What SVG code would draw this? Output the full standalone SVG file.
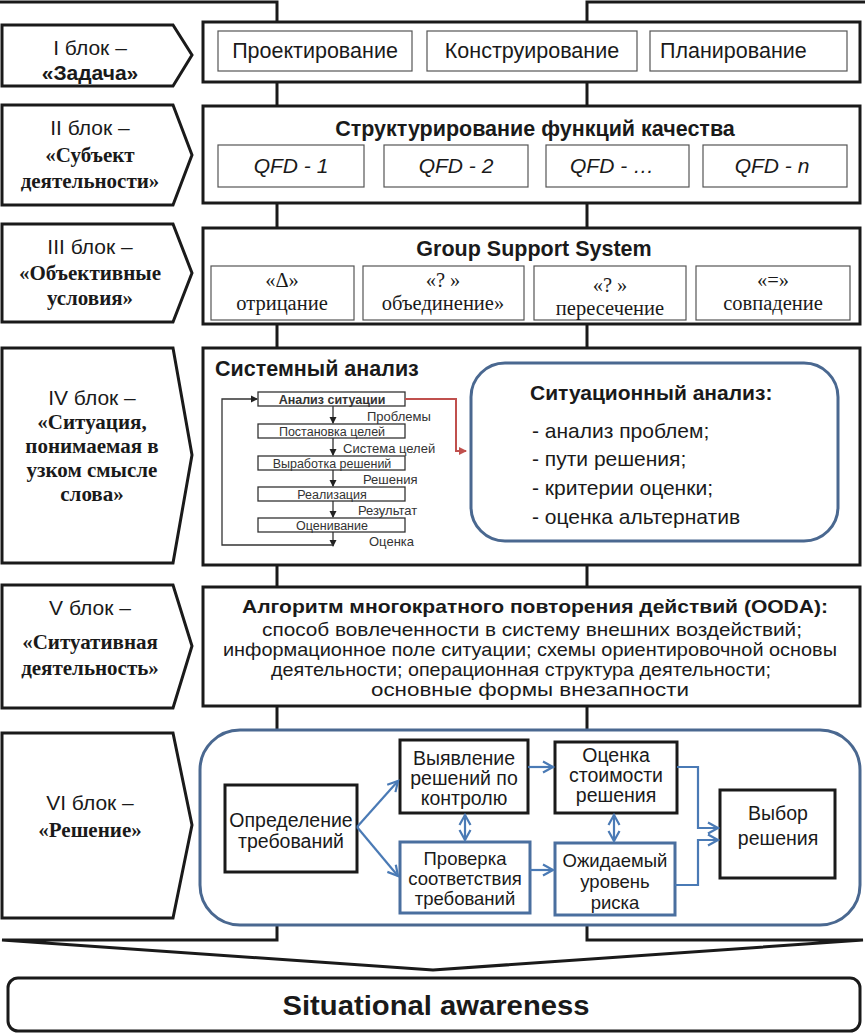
<svg xmlns="http://www.w3.org/2000/svg" width="865" height="1034" viewBox="0 0 865 1034">
<defs>
<marker id="ob" markerWidth="14" markerHeight="14" refX="11" refY="7" orient="auto" markerUnits="userSpaceOnUse">
<path d="M1,1.5 L11,7 L1,12.5" fill="none" stroke="#4a7ab5" stroke-width="2.2"/>
</marker>
<marker id="obs" markerWidth="14" markerHeight="14" refX="11" refY="7" orient="auto-start-reverse" markerUnits="userSpaceOnUse">
<path d="M1,1.5 L11,7 L1,12.5" fill="none" stroke="#4a7ab5" stroke-width="2.2"/>
</marker>
<marker id="sm" markerWidth="8" markerHeight="8" refX="6" refY="4" orient="auto" markerUnits="userSpaceOnUse">
<path d="M0,0.5 L7,4 L0,7.5 Z" fill="#222"/>
</marker>
<marker id="rd" markerWidth="9" markerHeight="9" refX="7" refY="4.5" orient="auto" markerUnits="userSpaceOnUse">
<path d="M0,0.5 L8,4.5 L0,8.5 Z" fill="#c0504d"/>
</marker>
</defs>
<style>
.lab{fill:#fff;stroke:#1a1a1a;stroke-width:3;stroke-linejoin:miter}
.main{fill:#fff;stroke:#1a1a1a;stroke-width:3}
.inner{fill:#fff;stroke:#555;stroke-width:1.2}
.sans{font-family:"Liberation Sans",Arial,sans-serif;fill:#1a1a1a}
.serif{font-family:"Liberation Serif","Times New Roman",serif;fill:#1a1a1a}
.lt{font-size:21px;text-anchor:middle}
.lb{font-size:21px;text-anchor:middle;font-weight:bold}
.t2{font-size:21.5px}
.c{text-anchor:middle}
.b{font-weight:bold}
.blue{fill:#fff;stroke:#4a6890;stroke-width:3}
.nb{fill:#fff;stroke:#1a1a1a;stroke-width:3}
.nbl{fill:#fff;stroke:#4a6f9f;stroke-width:3}
.nt{font-size:19.5px;text-anchor:middle}
.ns{font-size:18.5px;text-anchor:middle}
.arr{fill:none;stroke:#4a7ab5;stroke-width:2.2}
.fl{fill:#fff;stroke:#333;stroke-width:1.3}
.fa{fill:none;stroke:#333;stroke-width:1.3}
.ft{font-size:13px;fill:#333}
.fb{font-size:12.5px;fill:#333}
.st{font-size:21px}
</style>

<g id="connectors">
<path d="M0,2 H277 V940 H2 L433,970 L863,940 H587 V2 H865" fill="none" stroke="#1a1a1a" stroke-width="3"/>
</g>

<g id="block1">
<path class="lab" d="M2,25 H173 L192,55 L173,86 H2 Z"/>
<text class="sans lt" x="90" y="55">I блок –</text>
<text class="sans lb" x="90" y="80">«Задача»</text>
<rect class="main" x="203" y="22" width="657" height="60"/>
<rect class="inner" x="218" y="31" width="194" height="40"/>
<rect class="inner" x="427" y="31" width="210" height="40"/>
<rect class="inner" x="650" y="31" width="197" height="40"/>
<text class="sans t2 c" x="315" y="58">Проектирование</text>
<text class="sans t2 c" x="532" y="58">Конструирование</text>
<text class="sans t2" x="660" y="58">Планирование</text>
</g>

<g id="block2">
<path class="lab" d="M2,105 H173 L192,155 L173,205 H2 Z"/>
<text class="sans lt" x="90" y="135">II блок –</text>
<text class="serif lb" x="90" y="162">«Субъект</text>
<text class="serif lb" x="90" y="188">деятельности»</text>
<rect class="main" x="203" y="106" width="657" height="97"/>
<text class="sans t2 b c" x="535" y="136">Структурирование функций качества</text>
<rect class="inner" x="218" y="145" width="146" height="42"/>
<rect class="inner" x="384" y="145" width="144" height="42"/>
<rect class="inner" x="546" y="145" width="143" height="42"/>
<rect class="inner" x="703" y="145" width="144" height="42"/>
<text class="sans lt" font-style="italic" x="291" y="173">QFD - 1</text>
<text class="sans lt" font-style="italic" x="456" y="173">QFD - 2</text>
<text class="sans lt" font-style="italic" x="612" y="173">QFD - …</text>
<text class="sans lt" font-style="italic" x="772" y="173">QFD - n</text>
</g>

<g id="block3">
<path class="lab" d="M2,224 H173 L192,273 L173,322 H2 Z"/>
<text class="sans lt" x="90" y="254">III блок –</text>
<text class="serif lb" x="90" y="280">«Объективные</text>
<text class="serif lb" x="90" y="305">условия»</text>
<rect class="main" x="203" y="228" width="657" height="96"/>
<text class="sans t2 b c" x="534" y="256">Group Support System</text>
<rect class="inner" x="211" y="266" width="143" height="54"/>
<rect class="inner" x="363" y="266" width="161" height="54"/>
<rect class="inner" x="534" y="266" width="152" height="54"/>
<rect class="inner" x="696" y="266" width="154" height="54"/>
<text class="serif c" font-size="20.5" x="282" y="287">«Δ»</text>
<text class="serif c" font-size="20.5" x="282" y="310">отрицание</text>
<text class="serif c" font-size="20.5" x="443" y="287">«? »</text>
<text class="serif c" font-size="20.5" x="443" y="310">объединение»</text>
<text class="serif c" font-size="20.5" x="610" y="292">«? »</text>
<text class="serif c" font-size="20.5" x="610" y="315">пересечение</text>
<text class="serif c" font-size="20.5" x="773" y="287">«=»</text>
<text class="serif c" font-size="20.5" x="773" y="310">совпадение</text>
</g>

<g id="block4">
<path class="lab" d="M2,348 H173 L192,455 L173,563 H2 Z"/>
<text class="sans lt" x="92" y="405">IV блок –</text>
<text class="serif lb" x="92" y="429">«Ситуация,</text>
<text class="serif lb" x="92" y="453">понимаемая в</text>
<text class="serif lb" x="92" y="477">узком смысле</text>
<text class="serif lb" x="92" y="501">слова»</text>
<rect class="main" x="203" y="348" width="657" height="217"/>
<text class="sans t2 b" x="215" y="376">Системный анализ</text>
</g>

<g id="sysflow">
<rect class="fl" x="258" y="392" width="147" height="14"/>
<rect class="fl" x="258" y="424" width="147" height="14"/>
<rect class="fl" x="258" y="456" width="147" height="14"/>
<rect class="fl" x="258" y="487" width="147" height="14"/>
<rect class="fl" x="258" y="518" width="147" height="14"/>
<text class="sans c fb b" x="332" y="404">Анализ ситуации</text>
<text class="sans c fb" x="332" y="436">Постановка целей</text>
<text class="sans c fb" x="332" y="468">Выработка решений</text>
<text class="sans c fb" x="332" y="499">Реализация</text>
<text class="sans c fb" x="332" y="530">Оценивание</text>
<text class="sans ft" x="367" y="421">Проблемы</text>
<text class="sans ft" x="343" y="453">Система целей</text>
<text class="sans ft" x="363" y="484">Решения</text>
<text class="sans ft" x="358" y="515">Результат</text>
<text class="sans ft" x="369" y="546">Оценка</text>
<path class="fa" d="M333,406 V423" marker-end="url(#sm)"/>
<path class="fa" d="M333,438 V455" marker-end="url(#sm)"/>
<path class="fa" d="M333,470 V486" marker-end="url(#sm)"/>
<path class="fa" d="M333,501 V517" marker-end="url(#sm)"/>
<path class="fa" d="M333,532 V546" marker-end="url(#sm)"/>
<path class="fa" d="M333,545 H222 V399 H257" marker-end="url(#sm)"/>
<path d="M405,399 H456 V451 H466" fill="none" stroke="#c0504d" stroke-width="2" marker-end="url(#rd)"/>
</g>

<g id="sitanalysis">
<rect class="blue" x="471" y="363" width="367" height="178" rx="34"/>
<text class="sans b" font-size="21" x="530" y="400">Ситуационный анализ:</text>
<text class="sans st" x="532" y="438">- анализ проблем;</text>
<text class="sans st" x="532" y="466">- пути решения;</text>
<text class="sans st" x="532" y="495">- критерии оценки;</text>
<text class="sans st" x="532" y="524">- оценка альтернатив</text>
</g>

<g id="block5">
<path class="lab" d="M2,585 H173 L192,646 L173,708 H2 Z"/>
<text class="sans lt" x="90" y="615">V блок –</text>
<text class="serif lb" x="90" y="649">«Ситуативная</text>
<text class="serif lb" x="90" y="675">деятельность»</text>
<rect class="main" x="203" y="587" width="657" height="119"/>
<text class="sans b c" font-size="19" x="535" y="613" textLength="586" lengthAdjust="spacingAndGlyphs">Алгоритм многократного повторения действий (OODA):</text>
<text class="sans c" font-size="19" x="532" y="636" textLength="540" lengthAdjust="spacingAndGlyphs">способ вовлеченности в систему внешних воздействий;</text>
<text class="sans c" font-size="19" x="530" y="656" textLength="614" lengthAdjust="spacingAndGlyphs">информационное поле ситуации; схемы ориентировочной основы</text>
<text class="sans c" font-size="19" x="521" y="676" textLength="500" lengthAdjust="spacingAndGlyphs">деятельности; операционная структура деятельности;</text>
<text class="sans c" font-size="19" x="530" y="696" textLength="318" lengthAdjust="spacingAndGlyphs">основные формы внезапности</text>
</g>

<g id="block6">
<path class="lab" d="M2,733 H173 L192,825 L173,918 H2 Z"/>
<text class="sans lt" x="90" y="810">VI блок –</text>
<text class="serif lb" x="90" y="837">«Решение»</text>
<rect class="blue" x="200" y="730" width="660" height="195" rx="40"/>
</g>

<g id="n-def"><rect class="nb" x="225" y="785" width="132" height="87"/>
<text class="sans nt" x="291" y="827">Определение</text>
<text class="sans nt" x="291" y="848">требований</text></g>
<g id="n-vyy"><rect class="nb" x="400" y="740" width="128" height="73"/>
<text class="sans nt" x="464" y="765">Выявление</text>
<text class="sans nt" x="464" y="785">решений по</text>
<text class="sans nt" x="464" y="805">контролю</text></g>
<g id="n-pro"><rect class="nbl" x="400" y="842" width="130" height="71"/>
<text class="sans ns" x="465" y="865">Проверка</text>
<text class="sans ns" x="465" y="885">соответствия</text>
<text class="sans ns" x="465" y="905">требований</text></g>
<g id="n-ots"><rect class="nb" x="555" y="742" width="122" height="71"/>
<text class="sans nt" x="616" y="762">Оценка</text>
<text class="sans nt" x="616" y="782">стоимости</text>
<text class="sans nt" x="616" y="802">решения</text></g>
<g id="n-ozh"><rect class="nbl" x="555" y="843" width="120" height="72"/>
<text class="sans ns" x="615" y="867">Ожидаемый</text>
<text class="sans ns" x="615" y="888">уровень</text>
<text class="sans ns" x="615" y="909">риска</text></g>
<g id="n-vyb"><rect class="nb" x="720" y="790" width="115" height="88"/>
<text class="sans nt" x="778" y="820">Выбор</text>
<text class="sans nt" x="778" y="845">решения</text></g>

<g id="flow6">
<path class="arr" d="M357,827 L398,781" marker-end="url(#ob)"/>
<path class="arr" d="M357,827 L398,876" marker-end="url(#ob)"/>
<path class="arr" d="M528,767 H553" marker-end="url(#ob)"/>
<path class="arr" d="M530,870 H553" marker-end="url(#ob)"/>
<path class="arr" d="M465,815 V840" marker-start="url(#obs)" marker-end="url(#ob)"/>
<path class="arr" d="M614,815 V841" marker-start="url(#obs)" marker-end="url(#ob)"/>
<path class="arr" d="M677,767 H698 V828 H718" marker-end="url(#ob)"/>
<path class="arr" d="M675,885 H698 V840 H718" marker-end="url(#ob)"/>
</g>

<g id="sa">
<rect x="8" y="978" width="852" height="53" rx="10" fill="#fff" stroke="#1a1a1a" stroke-width="3"/>
<text class="sans b c" font-size="27" x="436" y="1015" textLength="307" lengthAdjust="spacingAndGlyphs">Situational awareness</text>
</g>
</svg>
